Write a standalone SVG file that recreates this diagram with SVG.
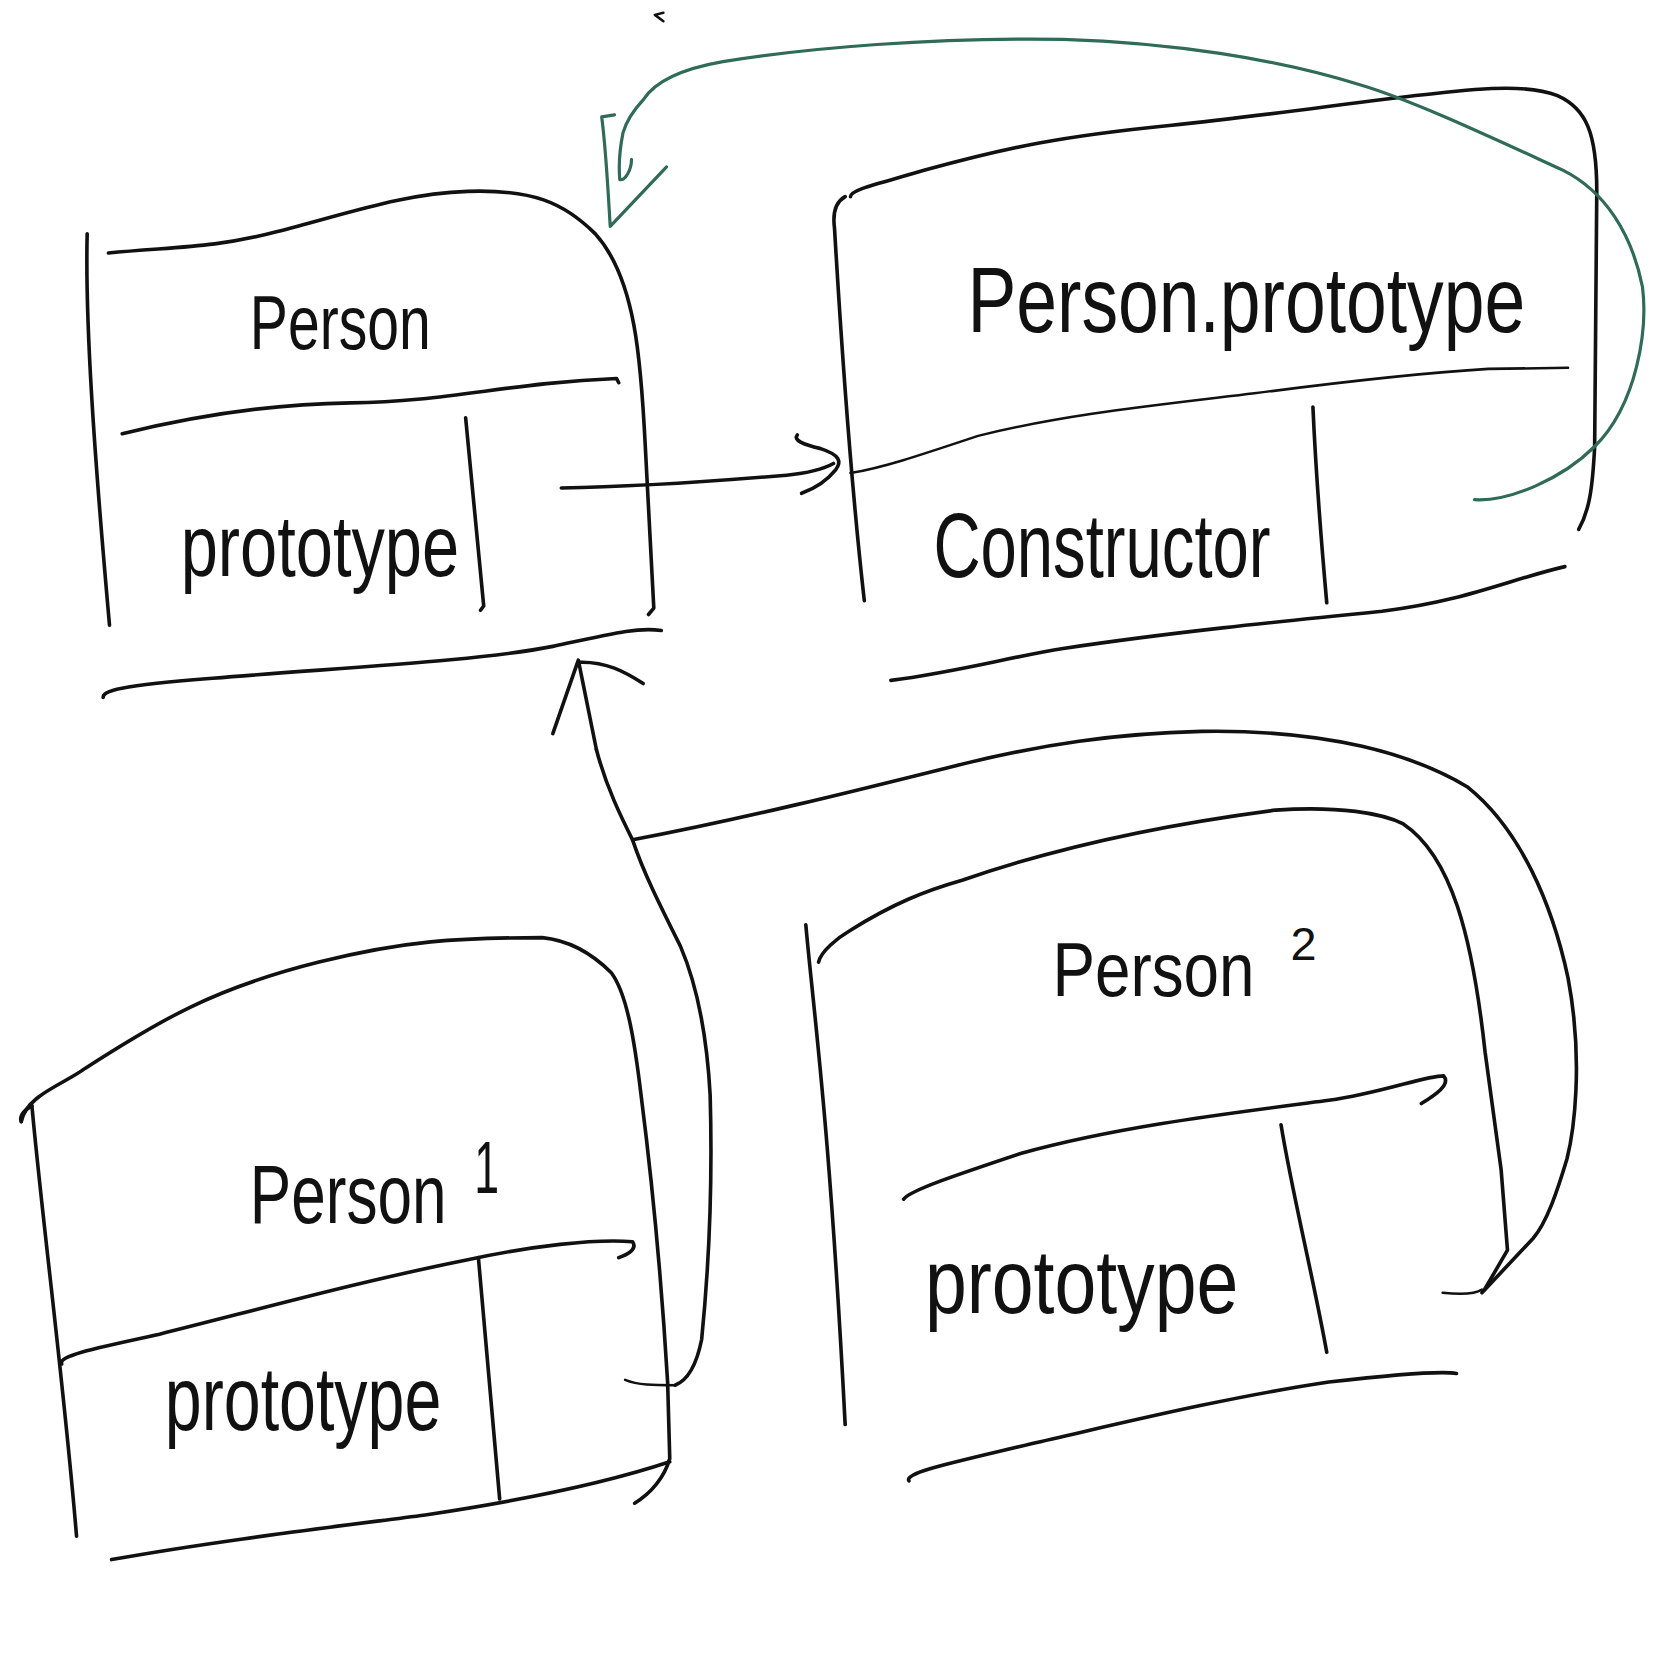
<svg xmlns="http://www.w3.org/2000/svg" width="1667" height="1660" viewBox="0 0 1667 1660">
<style>
.ln{fill:none;stroke:#111;stroke-width:3.4;stroke-linecap:round;stroke-linejoin:round}
.th{stroke-width:2.4}
.gr{fill:none;stroke:#2f6b57;stroke-width:3;stroke-linecap:round;stroke-linejoin:round}
.t{font-family:"Liberation Sans",Arial,sans-serif;fill:#111}
</style>
<rect width="1667" height="1660" fill="#fff"/>
<g transform="scale(1.0631)">
<g id="person">
<path class="ln" d="M82,220 C80,300 88,420 103,588"/>
<path class="ln" d="M102,238 C160,232 200,234 260,218 C330,200 380,182 440,180 C500,178 530,190 560,220 C598,262 603,340 607,420 L615,572 L610,578"/>
<path class="ln" d="M115,408 C180,392 250,380 330,379 C420,378 480,360 580,356 L582,360"/>
<path class="ln" d="M438,393 L455,570 L452,574"/>
<path class="ln" d="M97,656 C97,650 110,645 200,638 C320,628 450,622 520,608 C580,595 600,590 622,593"/>
<text class="t" transform="translate(235,328) scale(0.746,1)" font-size="72">Person</text>
<text class="t" transform="translate(170,542) scale(0.766,1)" font-size="82">prototype</text>
</g>
<g id="person-prototype">
<path class="ln" d="M795,185 C786,190 783,200 785,215 C790,300 800,450 813,565"/>
<path class="ln" d="M800,185 C800,178 830,172 870,160 C950,138 1000,128 1100,118 C1200,108 1280,95 1350,88 C1400,82 1440,80 1465,90 C1492,102 1502,125 1502,180 L1500,420 C1498,460 1495,480 1485,498"/>
<path class="ln th" d="M800,445 C830,440 860,430 920,410 C1000,390 1080,382 1180,370 C1280,357 1350,350 1400,347 L1475,346"/>
<path class="ln" d="M1235,383 C1238,450 1242,500 1248,567"/>
<path class="ln" d="M838,640 C900,632 950,618 1000,610 C1100,595 1200,585 1300,575 C1380,565 1420,545 1472,533"/>
<text class="t" transform="translate(910,312) scale(0.783,1)" font-size="88">Person.prototype</text>
<text class="t" transform="translate(878,543) scale(0.722,1)" font-size="85">Constructor</text>
</g>
<g id="person1">
<path class="ln" d="M30,1040 C22,1045 18,1050 20,1055"/>
<path class="ln" d="M30,1040 C40,1150 60,1300 72,1445"/>
<path class="ln" d="M20,1055 C25,1030 60,1020 80,1005 C150,960 200,930 300,905 C380,885 430,882 510,882 C540,885 560,900 575,915 C590,935 597,980 603,1030 C612,1100 622,1200 628,1300 L630,1372 C625,1390 612,1405 597,1414"/>
<path class="ln" d="M58,1283 C55,1275 90,1268 150,1255 C250,1230 340,1205 440,1185 C500,1172 560,1165 595,1168 C600,1175 590,1180 582,1183"/>
<path class="ln" d="M450,1183 L470,1410"/>
<path class="ln" d="M105,1467 C200,1450 300,1438 400,1425 C500,1410 570,1395 630,1375"/>
<text class="t" transform="translate(235,1150) scale(0.749,1)" font-size="78">Person</text>
<text class="t" transform="translate(446,1122) scale(0.6,1)" font-size="70">1</text>
<text class="t" transform="translate(155,1345) scale(0.734,1)" font-size="85">prototype</text>
</g>
<g id="person2">
<path class="ln" d="M758,870 C765,950 780,1050 795,1340"/>
<path class="ln" d="M770,905 C772,895 788,882 800,875 C840,850 870,838 905,828 C1000,795 1100,775 1200,762 C1260,758 1300,765 1320,775 C1365,805 1385,880 1397,990 L1412,1100 L1418,1176 L1397,1212"/>
<path class="ln" d="M850,1128 C855,1120 900,1105 960,1085 C1050,1060 1150,1048 1250,1035 C1300,1028 1340,1012 1358,1012 C1365,1020 1350,1030 1337,1038"/>
<path class="ln" d="M1205,1058 C1215,1120 1235,1200 1248,1272"/>
<path class="ln" d="M855,1393 C850,1385 900,1375 970,1358 C1050,1340 1150,1315 1250,1300 C1320,1292 1360,1290 1370,1292"/>
<text class="t" transform="translate(990,937) scale(0.833,1)" font-size="72">Person</text>
<text class="t" transform="translate(1214,903)" font-size="44">2</text>
<text class="t" transform="translate(870,1235) scale(0.832,1)" font-size="85">prototype</text>
</g>
<g id="connectors">
<path class="ln" d="M528,459 C600,458 680,452 740,447 C760,445 775,441 784,436"/>
<path class="ln" d="M750,409 C746,414 755,418 772,422 C790,428 792,434 786,442 C778,452 765,460 754,464"/>
<path class="ln" d="M520,690 L544,621 L561,705"/>
<path class="ln" d="M544,623 C570,622 588,632 605,643"/>
<path class="ln" d="M561,705 C570,740 585,770 595,790 C605,820 620,850 640,890 C655,925 665,975 668,1030 C670,1100 668,1180 660,1260 C656,1280 648,1298 635,1303"/>
<path class="ln th" d="M588,1298 C600,1303 615,1303 635,1303"/>
<path class="ln" d="M595,790 C700,770 800,745 900,720 C980,700 1050,690 1130,688 C1250,686 1330,710 1380,740 C1430,780 1460,850 1475,920 C1490,1000 1480,1066 1474,1090 C1465,1120 1455,1150 1442,1165 L1394,1216"/>
<path class="ln th" d="M1357,1216 C1375,1218 1388,1217 1394,1213"/>
<path class="gr" d="M1387,470 C1420,472 1470,450 1500,420 C1540,380 1550,310 1545,270 C1535,220 1510,180 1470,160 C1400,128 1330,95 1280,80 C1200,55 1100,40 1000,37 C880,35 760,45 680,58 C640,65 615,78 605,94 C592,108 588,118 586,125 C583,140 582,158 583,169 C588,170 594,160 594,150"/>
<path class="gr" d="M578,108 L566,110 C570,140 572,180 574,213 L627,157"/>
<path class="ln th" d="M624,20 L616,14 L624,12"/>
</g>
</g>
</svg>
